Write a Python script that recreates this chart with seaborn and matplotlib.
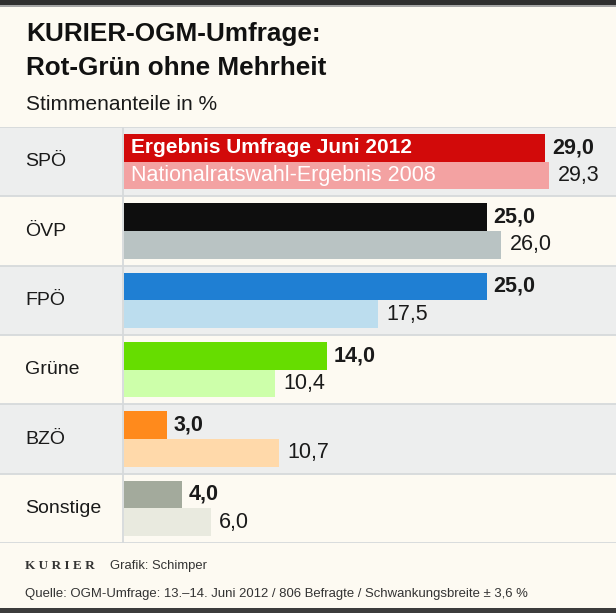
import matplotlib
matplotlib.use("Agg")
import matplotlib.pyplot as plt
import seaborn as sns
import pandas as pd
from matplotlib import font_manager
from matplotlib.patches import Rectangle
from matplotlib.transforms import blended_transform_factory

# ---------------- data ----------------
parties = ["SPÖ", "ÖVP", "FPÖ", "Grüne", "BZÖ", "Sonstige"]
poll_2012 = [29.0, 25.0, 25.0, 14.0, 3.0, 4.0]
election_2008 = [29.3, 26.0, 17.5, 10.4, 10.7, 6.0]
series_names = ["Ergebnis Umfrage Juni 2012", "Nationalratswahl-Ergebnis 2008"]
colors_2012 = ["#D20A0A", "#0E0E0E", "#1F7FD3", "#66DD00", "#FF8A1C", "#A3AA9C"]
colors_2008 = ["#F3A2A2", "#B9C3C3", "#BCDDEE", "#CDFFAA", "#FFD9AA", "#E9EADF"]

title_lines = ["KURIER-OGM-Umfrage:", "Rot-Grün ohne Mehrheit"]
subtitle = "Stimmenanteile in %"
footer_brand = "K U R I E R"
footer_credit = "Grafik: Schimper"
footer_source = "Quelle: OGM-Umfrage: 13.–14. Juni 2012 / 806 Befragte / Schwankungsbreite ± 3,6 %"

df = pd.DataFrame({
    "Partei": parties * 2,
    "Wert": poll_2012 + election_2008,
    "Serie": [series_names[0]] * len(parties) + [series_names[1]] * len(parties),
})

# ---------------- style ----------------
sns.set_theme(style="white")
available = {f.name for f in font_manager.fontManager.ttflist}
base = "Liberation Sans" if "Liberation Sans" in available else "DejaVu Sans"
narrow = "Liberation Sans Narrow" if "Liberation Sans Narrow" in available else None
serif = "Liberation Serif" if "Liberation Serif" in available else "DejaVu Serif"
plt.rcParams["font.family"] = [base, "DejaVu Sans"]

CREAM = "#FDFAF2"
GRAY = "#EDEEEE"
LINE = "#D6D9DB"
TEXT = "#1A1A1A"

W, H = 616, 613
fig = plt.figure(figsize=(W / 100, H / 100), dpi=100)
fig.patch.set_facecolor(CREAM)

rows_top, rows_bottom = 127, 543
ax = fig.add_axes([0, (H - rows_bottom) / H, 1, (rows_bottom - rows_top) / H])

sns.barplot(data=df, y="Partei", x="Wert", hue="Serie", order=parties,
            hue_order=series_names, orient="h", width=0.8, dodge=True,
            legend=False, saturation=1, linewidth=0, ax=ax)

for bar, c in zip(ax.containers[0], colors_2012):
    bar.set_facecolor(c)
    bar.set_edgecolor("none")
    bar.set_zorder(3)
for bar, c in zip(ax.containers[1], colors_2008):
    bar.set_facecolor(c)
    bar.set_edgecolor("none")
    bar.set_zorder(3)

def fmt(v):
    return f"{v:.1f}".replace(".", ",")

ax.bar_label(ax.containers[0], labels=[fmt(v) for v in poll_2012], padding=5,
             fontsize=15.5, fontweight="bold", color=TEXT)
ax.bar_label(ax.containers[1], labels=[fmt(v) for v in election_2008], padding=6,
             fontsize=15.5, color=TEXT)

x0_px, scale = 123.5, 14.53
ax.set_xlim(-x0_px / scale, (W - x0_px) / scale)
ax.set_ylim(len(parties) - 0.5, -0.5)
ax.set_axis_off()

for i in range(len(parties)):
    ax.axhspan(i - 0.5, i + 0.5, color=GRAY if i % 2 == 0 else CREAM, zorder=0, lw=0)
for i in range(len(parties) + 1):
    ax.axhline(i - 0.5, color=LINE, lw=1.3, zorder=1)
ax.axvline(-0.6 / scale, color=LINE, lw=1.3, zorder=1)

trans = blended_transform_factory(ax.transAxes, ax.transData)
for i, p in enumerate(parties):
    ax.text(25 / W, i, p, transform=trans, va="center", ha="left",
            fontsize=14, color=TEXT)

ax.text(131 / W, -0.2, series_names[0], transform=trans, va="center", ha="left",
        fontsize=15, fontweight="bold", color="white", zorder=5)
ax.text(131 / W, 0.2, series_names[1], transform=trans, va="center", ha="left",
        fontsize=15.5, color="white", zorder=5)

# ---------------- titles ----------------
if narrow:
    tfam, tsize = [narrow, "DejaVu Sans"], 22.5
else:
    tfam, tsize = [base, "DejaVu Sans"], 18.8
fig.text(26 / W, 1 - 41 / H, title_lines[0], family=tfam,
         fontweight="bold", fontsize=tsize, color="#111111", va="baseline")
fig.text(26 / W, 1 - 75 / H, title_lines[1], family=tfam,
         fontweight="bold", fontsize=tsize, color="#111111", va="baseline")
fig.text(26 / W, 1 - 110 / H, subtitle, fontsize=15, color=TEXT, va="baseline")

# ---------------- footer ----------------
fig.text(25 / W, 1 - 569 / H, footer_brand, family=[serif, "DejaVu Serif"],
         fontweight="bold", fontsize=9.5, color="#333333", va="baseline")
fig.text(110 / W, 1 - 569 / H, footer_credit, fontsize=9.4, color="#333333", va="baseline")
fig.text(25 / W, 1 - 597 / H, footer_source, fontsize=9.45, color="#333333", va="baseline")

# frame bands
fig.add_artist(Rectangle((0, (H - 5) / H), 1, 5 / H, transform=fig.transFigure,
                         color="#2F2F2F", lw=0))
fig.add_artist(Rectangle((0, (H - 6.5) / H), 1, 1.5 / H, transform=fig.transFigure,
                         color="#A5A5A5", lw=0))
fig.add_artist(Rectangle((0, 0), 1, 5 / H, transform=fig.transFigure,
                         color="#3C3C3C", lw=0))

fig.savefig("out.png", dpi=100, facecolor=CREAM)
